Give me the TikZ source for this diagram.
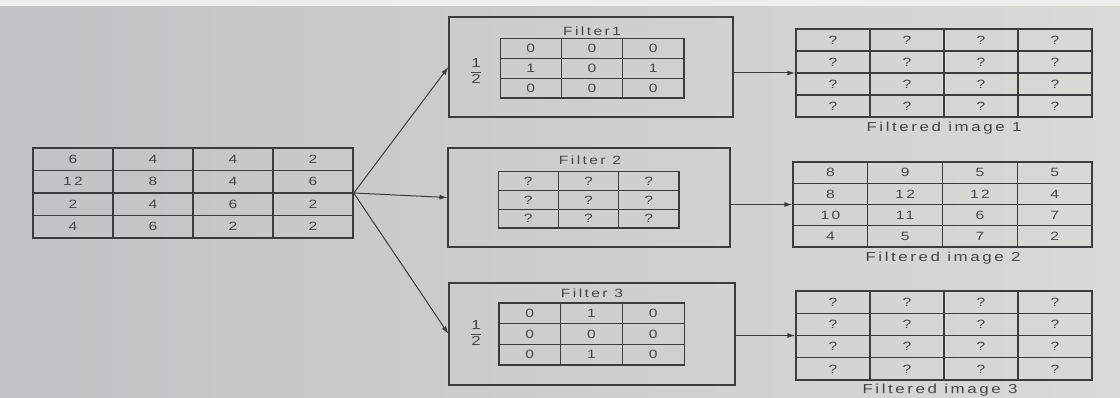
\documentclass[tikz,border=0pt]{standalone}
\usepackage{fontspec}
\setmainfont{Liberation Sans}[FakeStretch=1.3,LetterSpace=20]
\usetikzlibrary{matrix,arrows.meta}
\definecolor{ink}{RGB}{60,60,60}
\definecolor{txt}{RGB}{70,70,70}
\definecolor{paperL}{RGB}{194,194,196}
\definecolor{paperR}{RGB}{216,218,214}
\definecolor{paperTop}{RGB}{238,238,238}
\tikzset{
  cellgrid/.style 2 args={matrix of nodes, inner sep=0pt,
    column sep=-1.1pt, row sep=-1.1pt,
    nodes={draw=ink, line width=1.1pt, anchor=center, inner sep=0pt,
      text=txt, font=\fontsize{12}{13}\selectfont,
      minimum width=#1, minimum height=#2}},
  framebox/.style={draw=ink, line width=1.1pt, inner sep=0pt},
  lbl/.style={text=txt, inner sep=0pt, font=\fontsize{12}{13}\selectfont},
  fraclbl/.style={text=txt, inner sep=0pt, font=\fontsize{13}{14}\selectfont},
  captxt/.style={text=txt, inner sep=0pt, font=\fontsize{13}{14}\selectfont},
  conn/.style={draw=ink, line width=1pt, -{Latex[length=8pt,width=5pt]}}
}
\begin{document}
\begin{tikzpicture}[x=1pt,y=-1pt]
\useasboundingbox (0,0) rectangle (1120,398);
\fill[left color=paperL, right color=paperR] (0,0) rectangle (1120,398);
\fill[paperTop] (0,0) rectangle (1120,6);

% input image
\matrix (in) [cellgrid={80pt}{22.5pt}] at (193,193) {
  6 & 4 & 4 & 2 \\
  12 & 8 & 4 & 6 \\
  2 & 4 & 6 & 2 \\
  4 & 6 & 2 & 2 \\
};

% filter boxes
\node[framebox, minimum width=284pt, minimum height=100pt] (f1) at (591,67) {};
\node[framebox, minimum width=282pt, minimum height=99pt] (f2) at (589,197.5) {};
\node[framebox, minimum width=286pt, minimum height=102pt] (f3) at (592,334) {};

\node[lbl] (t1) at (592,31) {Filter1};
\node[lbl] (t2) at (590,160) {Filter 2};
\node[lbl] (t3) at (592,293) {Filter 3};

\node[fraclbl] (h1) at (476,71) {$\displaystyle{\hbox{1}\over\hbox{2}}$};
\node[fraclbl] (h3) at (476,333) {$\displaystyle{\hbox{1}\over\hbox{2}}$};

\matrix (k1) [cellgrid={61.3pt}{19.7pt}] at (592,68.5) {
  0 & 0 & 0 \\
  1 & 0 & 1 \\
  0 & 0 & 0 \\
};
\matrix (k2) [cellgrid={60.3pt}{18.7pt}] at (588.5,200) {
  ? & ? & ? \\
  ? & ? & ? \\
  ? & ? & ? \\
};
\matrix (k3) [cellgrid={61.7pt}{20.7pt}] at (591.5,334) {
  0 & 1 & 0 \\
  0 & 0 & 0 \\
  0 & 1 & 0 \\
};

% outputs
\matrix (o1) [cellgrid={74pt}{22pt}] at (944,73) {
  ? & ? & ? & ? \\
  ? & ? & ? & ? \\
  ? & ? & ? & ? \\
  ? & ? & ? & ? \\
};
\matrix (o2) [cellgrid={74.75pt}{21.25pt}] at (942.5,204.5) {
  8 & 9 & 5 & 5 \\
  8 & 12 & 12 & 4 \\
  10 & 11 & 6 & 7 \\
  4 & 5 & 7 & 2 \\
};
\matrix (o3) [cellgrid={74pt}{22.25pt}] at (944,335.5) {
  ? & ? & ? & ? \\
  ? & ? & ? & ? \\
  ? & ? & ? & ? \\
  ? & ? & ? & ? \\
};

\node[captxt] (c1) at (944,128) {Filtered image 1};
\node[captxt] (c2) at (943,258) {Filtered image 2};
\node[captxt] (c3) at (940,390) {Filtered image 3};

% connectors
\draw[conn] (in.east) -- (f1.west);
\draw[conn] (in.east) -- (f2.west);
\draw[conn] (in.east) -- (f3.west);
\draw[conn] (f1.east |- o1.west) -- (o1.west);
\draw[conn] (f2.east |- o2.west) -- (o2.west);
\draw[conn] (f3.east |- o3.west) -- (o3.west);
\end{tikzpicture}
\end{document}
